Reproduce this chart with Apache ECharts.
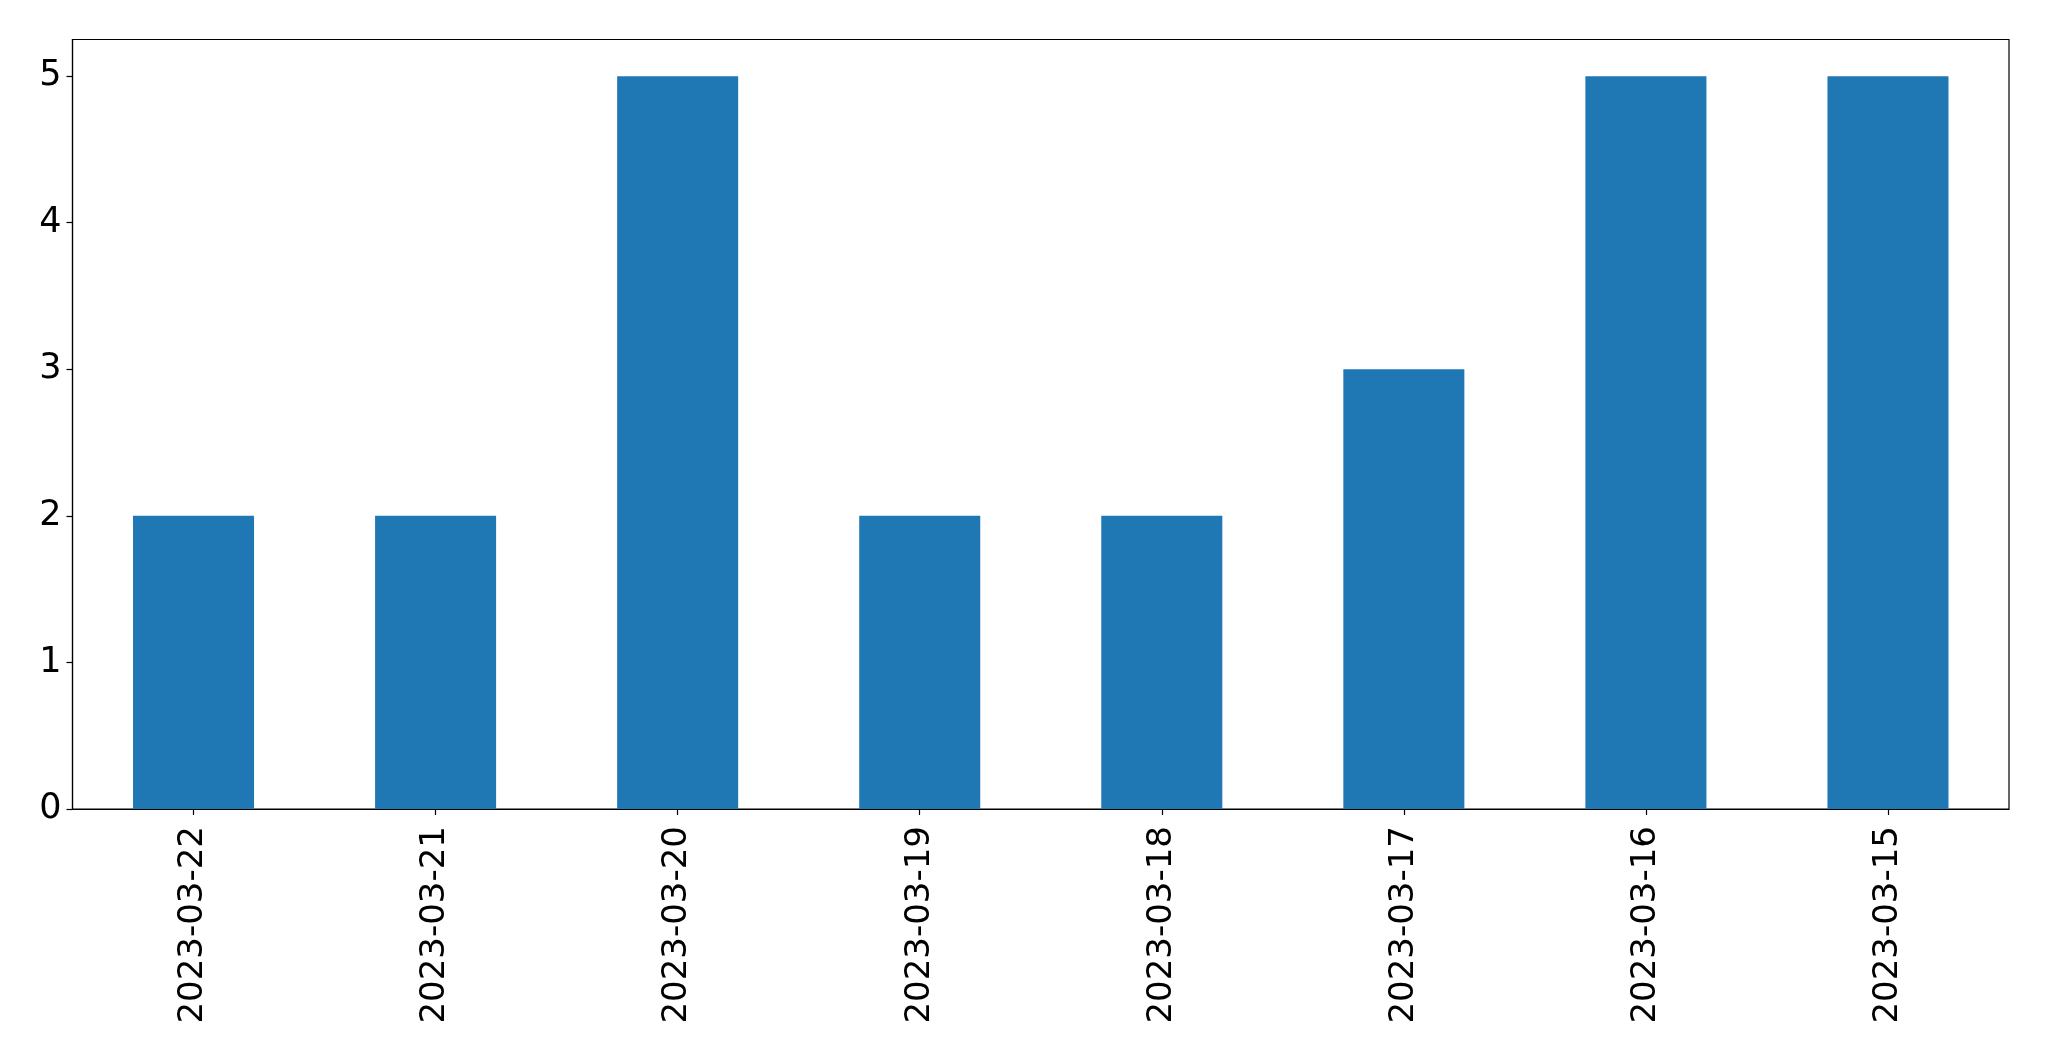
<!DOCTYPE html>
<html>
<head>
<meta charset="utf-8">
<script src="https://cdn.jsdelivr.net/npm/echarts@6/dist/echarts.min.js"></script>
<style>
html,body{margin:0;padding:0;background:#fff;}
#chart{width:2049px;height:1061px;}
</style>
</head>
<body>
<div id="chart"></div>
<script>
const categories = ['2023-03-22','2023-03-21','2023-03-20','2023-03-19','2023-03-18','2023-03-17','2023-03-16','2023-03-15'];
const values = [2, 2, 5, 2, 2, 3, 5, 5];
const yTicks = [0, 1, 2, 3, 4, 5];

const chart = echarts.init(document.getElementById('chart'), null, {renderer: 'canvas'});
chart.setOption({
  animation: false,
  backgroundColor: '#ffffff',
  textStyle: {fontFamily: 'DejaVu Sans'},
  grid: {
    left: 72.5, top: 39.5, right: 40, bottom: 252,
    show: true, borderColor: '#000', borderWidth: 1.2, backgroundColor: 'transparent'
  },
  xAxis: {
    type: 'category',
    data: categories,
    boundaryGap: true,
    axisLine: {show: true, lineStyle: {color: '#000', width: 1.2}},
    axisTick: {show: true, alignWithLabel: true, length: 6, lineStyle: {color: '#000', width: 1.2}},
    axisLabel: {rotate: 90, fontSize: 34, color: '#000', margin: 17, fontFamily: 'DejaVu Sans'},
    splitLine: {show: false}
  },
  yAxis: {
    type: 'value',
    min: 0, max: 5.25,
    axisLine: {show: true, lineStyle: {color: '#000', width: 1.2}},
    axisTick: {show: true, length: 6, customValues: yTicks, lineStyle: {color: '#000', width: 1.2}},
    axisLabel: {fontSize: 35, color: '#000', margin: 11, padding: [5, 0, 0, 0], customValues: yTicks, fontFamily: 'DejaVu Sans'},
    splitLine: {show: false}
  },
  series: [{
    type: 'bar',
    data: values,
    barWidth: '50%',
    itemStyle: {color: '#1f77b4'}
  }]
});
</script>
</body>
</html>
